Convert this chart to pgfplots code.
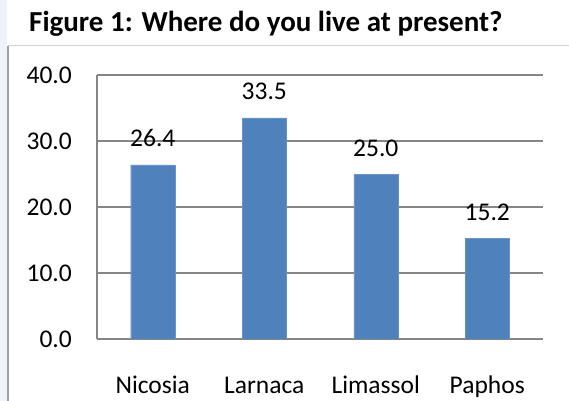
\documentclass[border=0pt]{standalone}
\usepackage{pgfplots}
\pgfplotsset{compat=1.18}
\usepackage{fontspec}
\setmainfont{Carlito}
\definecolor{barblue}{HTML}{4F81BD}
\definecolor{gridgray}{HTML}{868686}
\definecolor{lav}{HTML}{EEF2FA}
\definecolor{outerline}{HTML}{A0A0A0}
\definecolor{topline}{HTML}{D0D0D0}
\begin{document}
\begin{tikzpicture}
\fill[lav] (0,0) rectangle (7bp,401bp);
\draw[outerline, line width=1.5bp] (8bp,0) -- (8bp,355bp);
\draw[topline, line width=1bp] (8bp,355bp) -- (569bp,355bp);
\node[anchor=base west, inner sep=0pt, font=\fontsize{29bp}{32bp}\selectfont\bfseries] at (29bp,369bp) {Figure 1: Where do you live at present?};
\begin{axis}[
  at={(97bp,62bp)}, anchor=south west,
  scale only axis, width=446bp, height=264bp,
  xmin=-0.5, xmax=3.5, ymin=0, ymax=40,
  ytick={0,10,20,30,40},
  xtick={0,1,2,3},
  xticklabels={Nicosia,Larnaca,Limassol,Paphos},
  axis lines*=left,
  axis line style={gridgray, line width=1.5bp},
  ymajorgrids,
  grid style={gridgray, line width=1.5bp},
  major tick length=0pt,
  tick style={draw=none},
  /pgf/number format/.cd, fixed, fixed zerofill, precision=1, assume math mode=true,
  /pgfplots/.cd,
  yticklabel={\pgfmathprintnumber{\tick}},
  yticklabel style={font=\fontsize{25.5bp}{30bp}\selectfont, inner sep=0pt, anchor=east, xshift=-25bp},
  xticklabel style={font=\fontsize{25.5bp}{30bp}\selectfont, inner sep=0pt, anchor=base, yshift=-54bp},
  ybar, bar width=44bp,
  nodes near coords,
  nodes near coords style={font=\fontsize{25.5bp}{30bp}\selectfont, anchor=base, inner sep=0pt, yshift=18bp, text=black},
]
\addplot[fill=barblue, draw=barblue!85!white] coordinates {(0,26.4) (1,33.5) (2,25.0) (3,15.2)};
\end{axis}
\pgfresetboundingbox
\path (0,0) rectangle (569bp,401bp);
\end{tikzpicture}
\end{document}
